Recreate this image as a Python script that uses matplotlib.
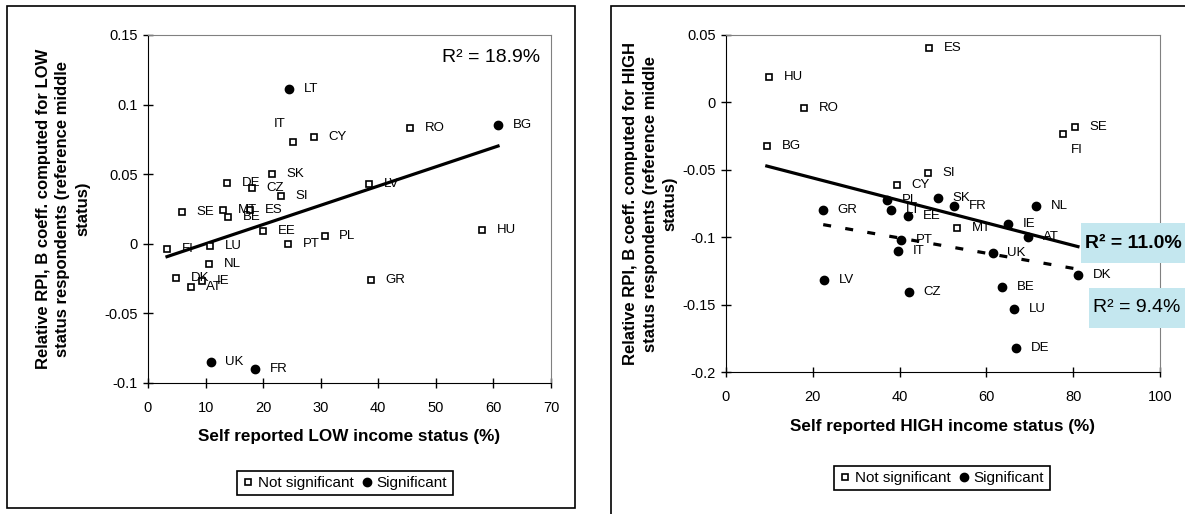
import numpy as np
import matplotlib
matplotlib.use('Agg')
import matplotlib.pyplot as plt
from matplotlib.patches import Rectangle
from matplotlib.lines import Line2D

plt.rcParams['font.family'] = ['Liberation Sans', 'DejaVu Sans']

# ---- LOW income panel ----
low_countries = ['LT', 'IT', 'CY', 'RO', 'BG', 'LV', 'SI', 'SK', 'DE', 'CZ', 'SE', 'MT', 'BE', 'ES',
                 'EE', 'PT', 'PL', 'HU', 'FI', 'LU', 'NL', 'DK', 'IE', 'AT', 'GR', 'UK', 'FR']
low_x = [24.5, 25.2, 28.8, 45.5, 60.8, 38.4, 23.1, 21.5, 13.7, 18.1, 5.9, 13.0, 13.9, 17.7,
         20.0, 24.3, 30.7, 58.0, 3.3, 10.8, 10.6, 4.9, 9.4, 7.5, 38.7, 10.9, 18.6]
low_y = [0.111, 0.073, 0.077, 0.0835, 0.085, 0.043, 0.034, 0.050, 0.044, 0.040, 0.023, 0.0245, 0.019, 0.0245,
         0.0094, 0.000, 0.0058, 0.010, -0.0036, -0.0014, -0.0146, -0.0245, -0.0266, -0.031, -0.026, -0.085, -0.090]
low_sig = [1, 0, 0, 0, 1, 0, 0, 0, 0, 0, 0, 0, 0, 0,
           0, 0, 0, 0, 0, 0, 0, 0, 0, 0, 0, 1, 1]
low_xticks = [0, 10, 20, 30, 40, 50, 60, 70]
low_yticks = [-0.1, -0.05, 0, 0.05, 0.1, 0.15]

# ---- HIGH income panel ----
high_countries = ['HU', 'RO', 'BG', 'GR', 'ES', 'SE', 'FI', 'SI', 'CY', 'PL', 'LT', 'EE', 'SK', 'FR',
                  'MT', 'IE', 'AT', 'NL', 'PT', 'IT', 'UK', 'CZ', 'BE', 'LU', 'DE', 'DK', 'LV']
high_x = [9.9, 18.0, 9.4, 22.4, 46.8, 80.4, 77.6, 46.5, 39.3, 37.1, 38.0, 41.9, 48.8, 52.5,
          53.2, 65.0, 69.6, 71.4, 40.3, 39.6, 61.5, 42.2, 63.6, 66.4, 66.8, 81.1, 22.6]
high_y = [0.0185, -0.0045, -0.032, -0.080, 0.040, -0.0185, -0.0237, -0.0527, -0.061, -0.0727, -0.080, -0.0845, -0.0712, -0.077,
          -0.0935, -0.090, -0.100, -0.077, -0.102, -0.110, -0.112, -0.141, -0.137, -0.153, -0.182, -0.128, -0.132]
high_sig = [0, 0, 0, 1, 0, 0, 0, 0, 0, 1, 1, 1, 1, 1,
            0, 1, 1, 1, 1, 1, 1, 1, 1, 1, 1, 1, 1]
high_xticks = [0, 20, 40, 60, 80, 100]
high_yticks = [-0.2, -0.15, -0.1, -0.05, 0, 0.05]

low_r2 = 'R² = 18.9%'
high_r2_all = 'R² = 11.0%'
high_r2_sig = 'R² = 9.4%'

W, H = 1185, 514
fig = plt.figure(figsize=(W / 100, H / 100), dpi=100)


def fx(p):
    return p / W


def fy(p):
    return 1 - p / H


def panel(ax, names, x, y, sig, xticks, yticks, moved):
    x = np.array(x)
    y = np.array(y)
    sig = np.array(sig, dtype=bool)
    ax.plot(x[~sig], y[~sig], ls='none', marker='s', ms=5, mfc='white', mec='black', mew=1.2, zorder=3)
    ax.plot(x[sig], y[sig], ls='none', marker='o', ms=6, mfc='black', mec='black', zorder=3)
    for n, xi, yi in zip(names, x, y):
        off, ha = moved.get(n, ((10.5, 0), 'left'))
        ax.annotate(n, (xi, yi), xytext=off, textcoords='offset points',
                    ha=ha, va='center', fontsize=9.5, zorder=4)
    ax.set_xlim(xticks[0], xticks[-1])
    ax.set_ylim(yticks[0], yticks[-1])
    ax.set_xticks(xticks, [f'{v:g}' for v in xticks])
    ax.set_yticks(yticks, [f'{v:g}' for v in yticks])
    ax.tick_params(direction='inout', length=7, width=1, labelsize=10.5)
    ax.tick_params(axis='x', pad=9.5)
    ax.tick_params(axis='y', pad=4)
    for s in ['top', 'right']:
        ax.spines[s].set_color('#808080')
    for s in ['left', 'bottom']:
        ax.spines[s].set_color('black')
    return x, y, sig


def trend(ax, x, y, ls):
    p = np.polyfit(x, y, 1)
    xs = np.array([x.min(), x.max()])
    ax.plot(xs, np.polyval(p, xs), color='black', lw=2.3, ls=ls, zorder=2)


# left panel
axL = fig.add_axes([fx(148), fy(383), (551 - 148) / W, (383 - 35) / H])
x, y, sig = panel(axL, low_countries, low_x, low_y, low_sig, low_xticks, low_yticks,
                  {'IT': ((-10, 13), 'center')})
trend(axL, x, y, '-')
axL.text((442 - 148) / (551 - 148), 1 - (58 - 35) / (383 - 35), low_r2,
         transform=axL.transAxes, fontsize=14, va='center', ha='left')

# right panel
axR = fig.add_axes([fx(726), fy(372), (1160 - 726) / W, (372 - 35) / H])
x, y, sig = panel(axR, high_countries, high_x, high_y, high_sig, high_xticks, high_yticks,
                  {'FI': ((10, -11.5), 'center')})
trend(axR, x, y, '-')
trend(axR, x[sig], y[sig], (0, (2.5, 4.5)))

# axis titles
fig.text(fx(63), fy(209), 'Relative RPI, B coeff. computed for LOW\nstatus respondents (reference middle\nstatus)',
         rotation=90, ha='center', va='center', fontsize=12, fontweight='bold', multialignment='center',
         linespacing=1.4)
fig.text(fx(650), fy(204), 'Relative RPI, B coeff. computed for HIGH\nstatus respondents (reference middle\nstatus)',
         rotation=90, ha='center', va='center', fontsize=12, fontweight='bold', multialignment='center',
         linespacing=1.4)
fig.text(fx(349), fy(437), 'Self reported LOW income status (%)', ha='center', va='center',
         fontsize=12.3, fontweight='bold')
fig.text(fx(943), fy(427), 'Self reported HIGH income status (%)', ha='center', va='center',
         fontsize=12.3, fontweight='bold')

# legends
handles = [Line2D([], [], ls='none', marker='s', ms=5, mfc='white', mec='black', mew=1.2),
           Line2D([], [], ls='none', marker='o', ms=6, mfc='black', mec='black')]
for cx, cy in [(345, 483), (942, 478)]:
    leg = fig.legend(handles, ['Not significant', 'Significant'], loc='center',
                     bbox_to_anchor=(fx(cx), fy(cy)), ncol=2, fontsize=11, frameon=True,
                     fancybox=False, edgecolor='black', framealpha=1, borderpad=0.35,
                     handlelength=0.7, handletextpad=0.3, columnspacing=0.5)
    leg.get_frame().set_linewidth(1.2)

# R2 boxes on the right panel
box_color = '#c4e7ef'
fig.patches.append(Rectangle((fx(1081), fy(263)), 0.2, 40 / H, transform=fig.transFigure,
                             fc=box_color, ec='none', zorder=5))
fig.patches.append(Rectangle((fx(1089), fy(328)), 0.2, 40 / H, transform=fig.transFigure,
                             fc=box_color, ec='none', zorder=5))
fig.text(fx(1085), fy(243), high_r2_all, fontsize=14, fontweight='bold', va='center', ha='left', zorder=6)
fig.text(fx(1093), fy(308), high_r2_sig, fontsize=14, va='center', ha='left', zorder=6)

# outer chart frames
fig.patches.append(Rectangle((fx(7), fy(508)), (575 - 7) / W, (508 - 6) / H, transform=fig.transFigure,
                             fill=False, ec='black', lw=1.2))
fig.patches.append(Rectangle((fx(611), fy(530)), 0.6, (530 - 6) / H, transform=fig.transFigure,
                             fill=False, ec='black', lw=1.2))

fig.savefig('out.png', dpi=100)
